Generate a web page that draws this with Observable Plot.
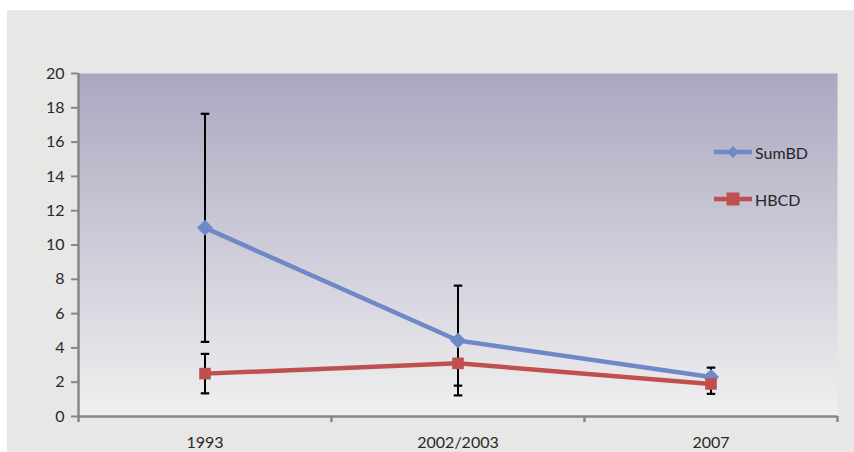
<!DOCTYPE html>
<html>
<head>
<meta charset="utf-8">
<script src="https://cdn.jsdelivr.net/npm/d3@7"></script>
<script src="https://cdn.jsdelivr.net/npm/@observablehq/plot@0.6"></script>
<style>
  html, body { margin: 0; padding: 0; background: #ffffff; }
  #wrap { position: relative; width: 854px; height: 452px; overflow: hidden; }
  #bgpanel { position: absolute; left: 7px; top: 10px; width: 847px; height: 442px; background: #e7e7e5; }
  #chart { position: absolute; left: 0; top: 0; }
  #legend { position: absolute; left: 713px; top: 140px; font-family: Lato, "Open Sans", sans-serif; font-size: 16px; color: #262626; }
  .li { display: flex; align-items: center; height: 24px; margin-bottom: 23px; }
  .li svg { margin-right: 2px; }
</style>
</head>
<body>
<div id="wrap">
  <div id="bgpanel"></div>
  <div id="chart"></div>
  <div id="legend"></div>
</div>
<script>
const categories = ["1993", "2002/2003", "2007"];
const sumBD = [11.0, 4.43, 2.3];
const sumBDErr = [6.65, 3.2, 0.55];
const hbcd = [2.5, 3.1, 1.9];
const hbcdErr = [1.15, 1.3, 0.58];
const yTicks = [0, 2, 4, 6, 8, 10, 12, 14, 16, 18, 20];
const seriesNames = ["SumBD", "HBCD"];
const seriesColors = ["#6f89c8", "#c05050"];

const rows = [];
categories.forEach((c, i) => {
  rows.push({series: "SumBD", i, v: sumBD[i], lo: sumBD[i] - sumBDErr[i], hi: sumBD[i] + sumBDErr[i]});
});
categories.forEach((c, i) => {
  rows.push({series: "HBCD", i, v: hbcd[i], lo: hbcd[i] - hbcdErr[i], hi: hbcd[i] + hbcdErr[i]});
});
const sRows = rows.filter(d => d.series === "SumBD");
const hRows = rows.filter(d => d.series === "HBCD");

const capSymbol = {
  draw(ctx, size) {
    const r = Math.sqrt(size) / 2;
    ctx.moveTo(-r, 0);
    ctx.lineTo(r, 0);
  }
};

const boundaries = [-0.5, 0.5, 1.5, 2.5];
const axisGray = "#878787";
const font = "Lato, 'Open Sans', sans-serif";

const plot = Plot.plot({
  width: 854,
  height: 452,
  marginLeft: 78,
  marginRight: 17,
  marginTop: 73,
  marginBottom: 36,
  style: {background: "transparent", fontFamily: font, fontSize: "16px", color: "#2a2a2a"},
  x: {type: "linear", domain: [-0.5, 2.5], axis: null, label: null},
  y: {domain: [0, 20], axis: null, label: null},
  marks: [
    Plot.frame({fill: "url(#plotgrad)", stroke: "none"}),
    // y axis
    Plot.axisY({ticks: yTicks, tickSize: 7, tickPadding: 7, stroke: axisGray, strokeWidth: 2, fontSize: 16, label: null, tickFormat: d => String(d)}),
    Plot.ruleX([-0.5], {stroke: axisGray, strokeWidth: 2.5}),
    // x axis
    Plot.ruleY([0], {stroke: axisGray, strokeWidth: 2.5}),
    Plot.axisX({ticks: boundaries, tickSize: 6, stroke: axisGray, strokeWidth: 2.5, label: null, tickFormat: () => ""}),
    Plot.axisX({ticks: categories.map((c, i) => i), tickSize: 0, tickPadding: 20, fontSize: 16, label: null, tickFormat: i => categories[i]}),
    // error bars
    Plot.ruleX(rows, {x: "i", y1: "lo", y2: "hi", stroke: "#000", strokeWidth: 2}),
    Plot.dot(rows, {x: "i", y: "lo", symbol: capSymbol, r: 4.8, stroke: "#000", strokeWidth: 2.2, fill: "none"}),
    Plot.dot(rows, {x: "i", y: "hi", symbol: capSymbol, r: 4.8, stroke: "#000", strokeWidth: 2.2, fill: "none"}),
    // SumBD
    Plot.lineY(sRows, {x: "i", y: "v", stroke: seriesColors[0], strokeWidth: 4.5}),
    Plot.dot(sRows, {x: "i", y: "v", symbol: "diamond2", r: 7.2, fill: seriesColors[0], stroke: "none"}),
    // HBCD
    Plot.lineY(hRows, {x: "i", y: "v", stroke: seriesColors[1], strokeWidth: 4.5}),
    Plot.dot(hRows, {x: "i", y: "v", symbol: "square2", r: 7.4, fill: seriesColors[1], stroke: "none"})
  ]
});

d3.select(plot).insert("defs", ":first-child").html(
  '<linearGradient id="plotgrad" x1="0" y1="0" x2="0" y2="1">' +
  '<stop offset="0" stop-color="#aba7c0"/>' +
  '<stop offset="1" stop-color="#f0f0f0"/>' +
  '</linearGradient>'
);

document.getElementById("chart").appendChild(plot);

// legend
const legend = document.getElementById("legend");
seriesNames.forEach((name, k) => {
  const div = document.createElement("div");
  div.className = "li";
  const marker = k === 0
    ? '<path d="M20,6 L26,12 L20,18 L14,12 Z" fill="' + seriesColors[k] + '"/>'
    : '<rect x="13.5" y="5.5" width="13" height="13" fill="' + seriesColors[k] + '"/>';
  div.innerHTML = '<svg width="40" height="24"><line x1="1" y1="12" x2="39" y2="12" stroke="' + seriesColors[k] + '" stroke-width="4.5"/>' + marker + '</svg><span>' + name + '</span>';
  legend.appendChild(div);
});
</script>
</body>
</html>
